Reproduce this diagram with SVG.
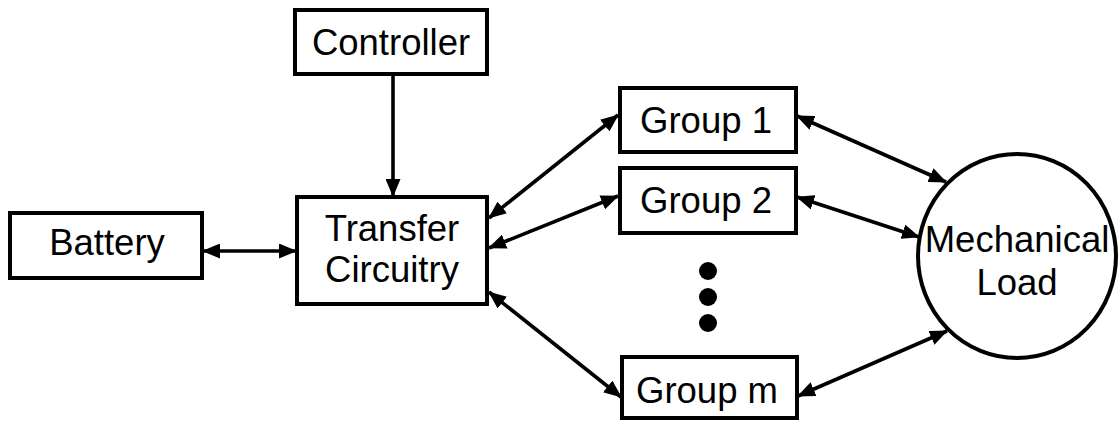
<svg xmlns="http://www.w3.org/2000/svg" width="1119" height="422" viewBox="0 0 1119 422">
  <style>
    .box { fill: #fff; stroke: #000; stroke-width: 4; }
    .lbl { font-family: "Liberation Sans", Arial, sans-serif; font-size: 36.5px; fill: #000; text-anchor: middle; }
    .wire { stroke: #000; stroke-width: 3.6; fill: none; }
    .one { marker-end: url(#head); }
    .two { marker-start: url(#head); marker-end: url(#head); }
  </style>
  <defs>
    <marker id="head" markerUnits="userSpaceOnUse" markerWidth="18" markerHeight="15" refX="17" refY="7.5" orient="auto-start-reverse" viewBox="0 0 18 15">
      <path d="M0,0 L18,7.5 L0,15 z" fill="#000"/>
    </marker>
  </defs>
  <rect width="1119" height="422" fill="#fff"/>

  <g id="connectors">
    <line class="wire one" x1="393" y1="74" x2="393" y2="196"/>
    <line class="wire two" x1="203" y1="251" x2="296" y2="251"/>
    <line class="wire two" x1="489" y1="218" x2="618" y2="115"/>
    <line class="wire two" x1="489" y1="248" x2="618" y2="196"/>
    <line class="wire two" x1="489" y1="292" x2="621" y2="397"/>
    <line class="wire two" x1="797" y1="116" x2="946" y2="182"/>
    <line class="wire two" x1="797" y1="197" x2="919" y2="237"/>
    <line class="wire two" x1="798" y1="396" x2="947" y2="331"/>
  </g>

  <g id="controller">
    <rect class="box" x="295" y="10" width="192" height="64"/>
    <text class="lbl" x="391" y="55">Controller</text>
  </g>
  <g id="battery">
    <rect class="box" x="10" y="213" width="192" height="65"/>
    <text class="lbl" x="107" y="255">Battery</text>
  </g>
  <g id="transfer">
    <rect class="box" x="297" y="197" width="190" height="107"/>
    <text class="lbl" x="392" y="241">Transfer</text>
    <text class="lbl" x="392" y="282">Circuitry</text>
  </g>
  <g id="group1">
    <rect class="box" x="620" y="88" width="176" height="64"/>
    <text class="lbl" x="706" y="133">Group 1</text>
  </g>
  <g id="group2">
    <rect class="box" x="620" y="168" width="176" height="65"/>
    <text class="lbl" x="706" y="213">Group 2</text>
  </g>
  <g id="ellipsis">
    <circle cx="708" cy="271" r="9"/>
    <circle cx="708" cy="297" r="9"/>
    <circle cx="708" cy="323" r="9"/>
  </g>
  <g id="groupm">
    <rect class="box" x="622" y="357" width="175" height="61"/>
    <text class="lbl" x="707" y="403">Group m</text>
  </g>
  <g id="load">
    <ellipse class="box" cx="1017" cy="256" rx="99" ry="102"/>
    <text class="lbl" x="1017" y="252">Mechanical</text>
    <text class="lbl" x="1017" y="295">Load</text>
  </g>
</svg>
